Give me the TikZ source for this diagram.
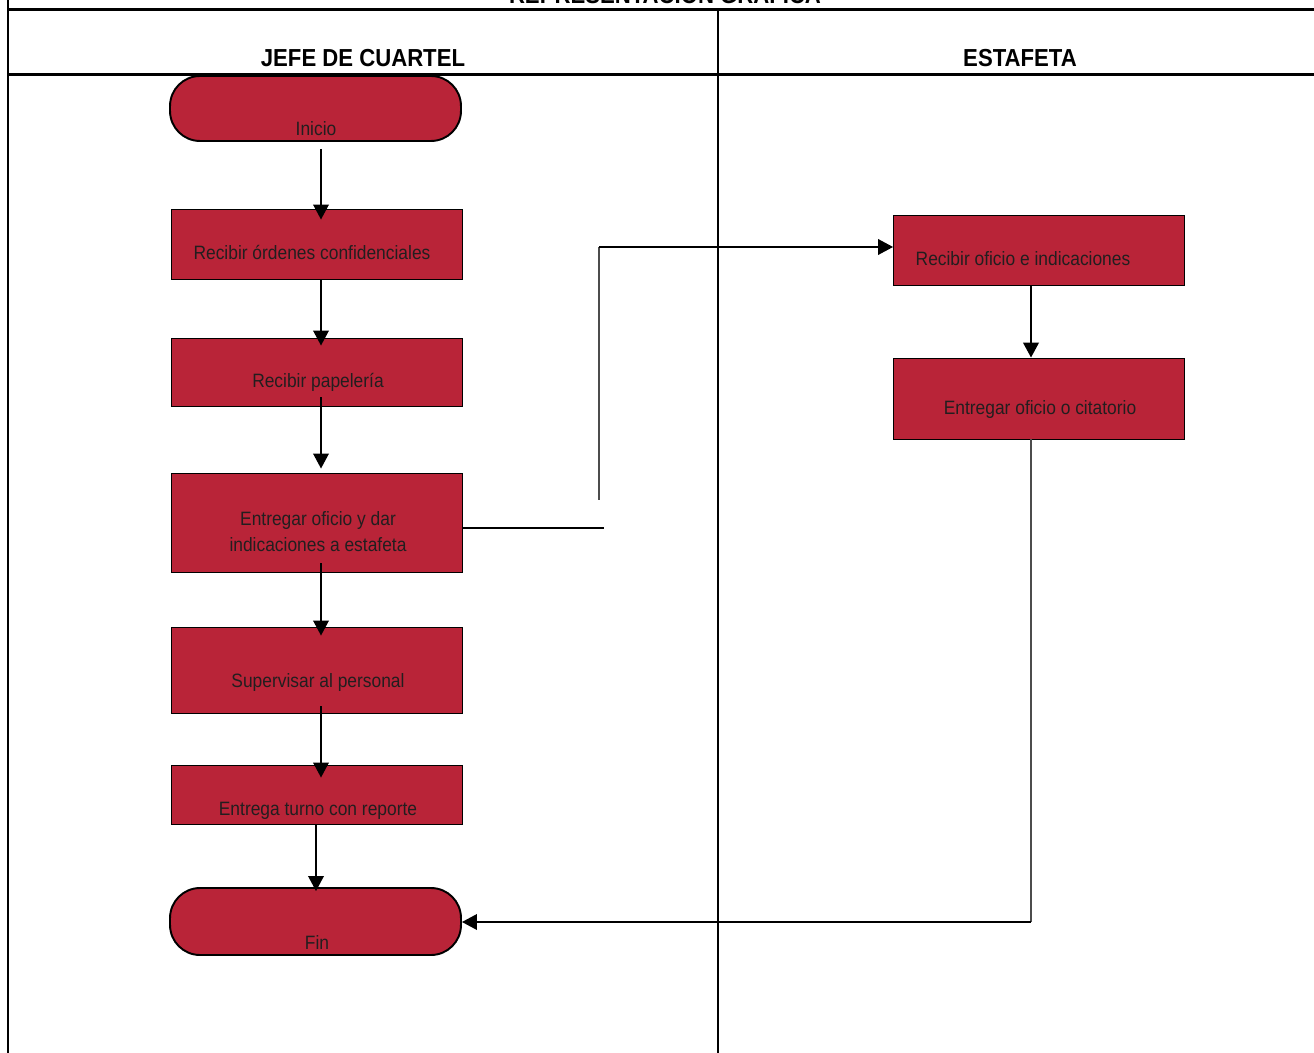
\documentclass[tikz,border=0pt]{standalone}
\usepackage{fontspec}
\setmainfont{Liberation Sans}[FakeStretch=0.9]
\usetikzlibrary{calc,arrows.meta}
\definecolor{vino}{RGB}{185,36,56}
\definecolor{tinta}{RGB}{34,30,31}

\tikzset{
  caja/.style={draw=black,line width=0.5pt,fill=vino,minimum width=5.82cm,inner sep=0pt},
  terminal/.style={caja,line width=1.1pt,rounded corners=0.6cm},
  texto/.style={text=tinta,font=\fontsize{11}{14.7}\selectfont,align=center,inner sep=0pt,anchor=base},
  encabezado/.style={font=\bfseries\fontsize{14}{16}\selectfont,inner sep=0pt,anchor=base},
  flecha/.style={line width=1.1pt,-{Triangle[length=0.3cm,width=0.31cm]}},
  linea/.style={line width=0.9pt,black!70}
}

\begin{document}
\begin{tikzpicture}[x=0.02cm,y=-0.02cm]
  \useasboundingbox (0,0) rectangle (1314,1053);
  \clip (0,0) rectangle (1314,1053);

  % marco y carriles
  \draw[line width=1.7pt] (8,0) -- (8,1053);
  \draw[line width=1.7pt] (8,10) -- (1314,10);
  \draw[line width=1.7pt] (8,75) -- (1314,75);
  \draw[line width=1.1pt] (718,10) -- (718,1053);
  \node[encabezado] (titulo)   at (665,4)  {REPRESENTACIÓN GRÁFICA};
  \node[encabezado] (jefe)     at (363,67) {JEFE DE CUARTEL};
  \node[encabezado] (estafeta) at (1020,67) {ESTAFETA};

  % jefe de cuartel
  \node[terminal,minimum height=1.3cm]  (inicio)     at (315.5,108.5) {};
  \node[caja,minimum height=1.4cm]      (ordenes)    at (316.5,244)   {};
  \node[caja,minimum height=1.36cm]     (papeleria)  at (316.5,372)   {};
  \node[caja,minimum height=1.98cm]     (entregar)   at (316.5,522.5) {};
  \node[caja,minimum height=1.72cm]     (supervisar) at (316.5,670)   {};
  \node[caja,minimum height=1.18cm]     (turno)      at (316.5,794.5) {};
  \node[terminal,minimum height=1.34cm] (fin)        at (315.5,921.5) {};

  % estafeta
  \node[caja,minimum height=1.4cm]  (oficio)    at (1039,250)   {};
  \node[caja,minimum height=1.62cm] (citatorio) at (1039,398.5) {};

  % textos
  \node[texto] (t-inicio)     at (316,136) {Inicio};
  \node[texto] (t-ordenes)    at (312,260) {Recibir órdenes confidenciales};
  \node[texto] (t-papeleria)  at (318,388) {Recibir papelería};
  \node[texto] (t-entregar)   at (318,551) {Entregar oficio y dar\\indicaciones a estafeta};
  \node[texto] (t-supervisar) at (318,687) {Supervisar al personal};
  \node[texto] (t-turno)      at (318,815) {Entrega turno con reporte};
  \node[texto] (t-fin)        at (317,949) {Fin};
  \node[texto] (t-oficio)     at (1023,266) {Recibir oficio e indicaciones};
  \node[texto] (t-citatorio)  at (1040,415) {Entregar oficio o citatorio};

  % flujo
  \coordinate (eje) at (321,0);
  \coordinate (eje2) at (316,0);
  \draw[flecha] ($(inicio.south -| eje)+(0,7)$)      -- ($(ordenes.north -| eje)+(0,11)$);
  \draw[flecha] (ordenes.south -| eje)               -- ($(papeleria.north -| eje)+(0,8)$);
  \draw[flecha] ($(papeleria.south -| eje)+(0,-9)$)  -- ($(entregar.north -| eje)+(0,-4)$);
  \draw[flecha] ($(entregar.south -| eje)+(0,-9)$)   -- ($(supervisar.north -| eje)+(0,9)$);
  \draw[flecha] ($(supervisar.south -| eje)+(0,-7)$) -- ($(turno.north -| eje)+(0,13)$);
  \draw[flecha] (turno.south -| eje2)                -- ($(fin.north -| eje2)+(0,4)$);

  \coordinate (salida)  at (604,528);
  \coordinate (quiebre) at (599,500);
  \draw[line width=1.1pt] (entregar.east |- salida) -- (salida);
  \draw[linea] (quiebre) -- ($(quiebre |- oficio.west)+(0,-3)$);
  \draw[flecha] ($(quiebre |- oficio.west)+(0,-3)$) -- ($(oficio.west)+(0,-3)$);

  \coordinate (bajada) at (1031,922);
  \draw[flecha,line width=1.4pt] (oficio.south -| bajada) -- (citatorio.north -| bajada);
  \draw[linea] (citatorio.south -| bajada) -- (bajada);
  \draw[flecha] (bajada) -- (fin.east |- bajada);
\end{tikzpicture}
\end{document}
